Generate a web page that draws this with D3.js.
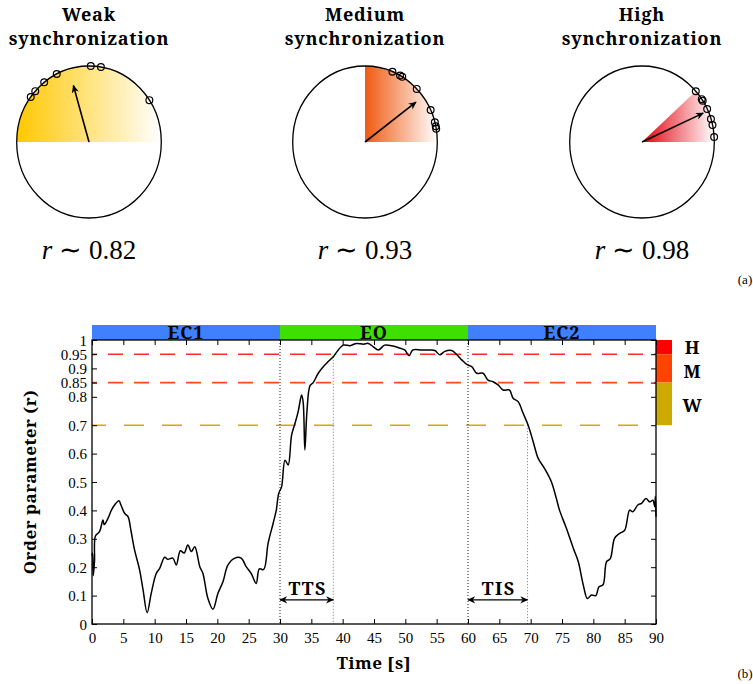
<!DOCTYPE html>
<html>
<head>
<meta charset="utf-8">
<script src="https://cdn.jsdelivr.net/npm/d3@7/dist/d3.min.js"></script>
<style>
  html, body { margin: 0; padding: 0; background: #fff; }
  svg { display: block; }
</style>
</head>
<body>
<svg id="chart" width="753" height="684"></svg>
<script>
// ---------------- DATA ----------------
// Panel (a): phase circles
const circleTitleTop = ["Weak", "Medium", "High"];
const circleTitleBottom = ["synchronization", "synchronization", "synchronization"];
const rLabels = ["0.82", "0.93", "0.98"];
const sectorSpanDeg = [180, 90, 42];
const sectorColors = ["#ffc800", "#ef5a12", "#e4000c"];
const phasesWeak = [143.7, 138, 128.3, 116.5, 88.6, 80.5, 33.4];
const phasesMedium = [67.7, 61, 59, 44.3, 24.8, 15, 12, 10];
const phasesHigh = [41.9, 34.3, 32.9, 25.7, 17.6, 12.9, 3.8];
const phaseSets = [phasesWeak, phasesMedium, phasesHigh];

// Panel (b): order parameter time series
const time = [0, 0.1, 0.2, 0.4, 0.55, 1.2, 1.75, 1.95, 2.55, 3.1,
  3.6, 4.3, 4.6, 5.2, 5.75, 6.2, 6.8, 7.6, 8.15, 8.8,
  9.45, 10.25, 10.8, 11.6, 12.1, 12.9, 13.45, 14.1, 14.7, 15.3,
  15.85, 16.4, 17.2, 17.7, 18.5, 19.3, 20.1, 20.9, 21.7, 22.8,
  23.8, 24.6, 25.4, 26.2, 26.7, 27.4, 28.1, 28.9, 29.4, 29.8,
  30.25, 30.8, 31.3, 31.85, 32.4, 32.9, 33.45, 33.7, 33.97, 34.3,
  34.8, 35.3, 36.1, 36.9, 37.7, 38.5, 39.3, 40.1, 41.2, 42.2,
  43.3, 44.1, 44.9, 45.7, 46.7, 47.8, 48.9, 49.9, 50.6, 51.2,
  52.6, 53.9, 54.7, 55.5, 56.3, 57.4, 58.2, 59.0, 59.8, 60.6,
  61.4, 62.4, 63.2, 64.0, 64.8, 65.6, 66.6, 67.2, 68.0, 68.8,
  69.6, 70.4, 71.2, 72.2, 73.3, 74.1, 74.6, 75.7, 76.8, 77.6,
  78.4, 79.05, 79.7, 80.4, 80.9, 81.55, 82.1, 82.7, 83.4, 84.2,
  85.0, 85.8, 86.3, 87.1, 87.7, 88.4, 89.0, 89.5, 89.8, 89.9, 90];
const orderParam = [0.24, 0.25, 0.17, 0.22, 0.31, 0.325, 0.366, 0.35, 0.372, 0.401,
  0.419, 0.434, 0.42, 0.39, 0.378, 0.331, 0.26, 0.19, 0.12, 0.04,
  0.108, 0.178, 0.196, 0.235, 0.228, 0.232, 0.208, 0.258, 0.25, 0.278,
  0.255, 0.272, 0.202, 0.178, 0.09, 0.052, 0.108, 0.149, 0.208, 0.232,
  0.232, 0.202, 0.178, 0.143, 0.194, 0.192, 0.284, 0.354, 0.40, 0.46,
  0.483, 0.577, 0.56, 0.665, 0.707, 0.748, 0.806, 0.78, 0.613, 0.748,
  0.84, 0.85, 0.883, 0.906, 0.924, 0.941, 0.965, 0.982, 0.98, 0.988,
  0.985, 0.988, 0.976, 0.965, 0.982, 0.98, 0.973, 0.965, 0.945, 0.965,
  0.965, 0.965, 0.963, 0.948, 0.96, 0.963, 0.948, 0.93, 0.914, 0.906,
  0.883, 0.883, 0.859, 0.853, 0.842, 0.824, 0.824, 0.795, 0.783, 0.742,
  0.70, 0.642, 0.583, 0.548, 0.501, 0.442, 0.401, 0.337, 0.267, 0.219,
  0.137, 0.09, 0.102, 0.10, 0.131, 0.138, 0.219, 0.23, 0.302, 0.319,
  0.33, 0.401, 0.395, 0.419, 0.425, 0.442, 0.43, 0.436, 0.413, 0.45, 0.378];

const xTickValues = [0, 5, 10, 15, 20, 25, 30, 35, 40, 45, 50, 55, 60, 65, 70, 75, 80, 85, 90];
const yTickValues = [0, 0.1, 0.2, 0.3, 0.4, 0.5, 0.6, 0.7, 0.8, 0.85, 0.9, 0.95, 1];
const yTickLabels = ["0", "0.1", "0.2", "0.3", "0.4", "0.5", "0.6", "0.7", "0.8", "0.85", "0.9", "0.95", "1"];

const stageLabels = ["EC1", "EO", "EC2"];
const stageStart = [0, 30, 60];
const stageEnd = [30, 60, 90];
const stageColors = ["#3f80ff", "#3de000", "#3f80ff"];

const thresholdValues = [0.95, 0.85, 0.7];
const thresholdColors = ["#ff2a2a", "#ff4a1a", "#d4aa00"];

const levelLabels = ["H", "M", "W"];
const levelLow = [0.95, 0.85, 0.7];
const levelHigh = [1, 0.95, 0.85];
const levelColors = ["#ff0000", "#ff4400", "#ccaa00"];

const intervalLabels = ["TTS", "TIS"];
const intervalStart = [30, 60];
const intervalEnd = [38.5, 69.5];
const intervalEndValue = [0.941, 0.70];
const intervalArrowValue = 0.085;

// ---------------- DRAW ----------------
const REG = '"Liberation Serif"';
const BOLD = '"Noto Serif"';
const svg = d3.select("#chart");
const defs = svg.append("defs");

function txt(sel, family, size, bold, spacing) {
  return sel.style("font-family", family).style("font-size", size + "px")
    .style("font-weight", bold ? "bold" : "normal")
    .style("letter-spacing", (spacing || 0) + "px").attr("fill", "#000");
}

function addMarker(id, orient) {
  defs.append("marker")
    .attr("id", id).attr("viewBox", "0 -5 10 10")
    .attr("refX", 9).attr("refY", 0)
    .attr("markerWidth", 9).attr("markerHeight", 8)
    .attr("markerUnits", "userSpaceOnUse")
    .attr("orient", orient)
    .append("path").attr("d", "M0,-4.5L10,0L0,4.5L3,0Z").attr("fill", "#000");
}
addMarker("arrowEnd", "auto");
addMarker("arrowStart", "auto-start-reverse");

// ----- panel (a)
const circleCx = [89, 365, 642];
const circleCy = 142;
const RX = 72.3, RY = 76;

phaseSets.forEach((phases, i) => {
  const sx = d3.scaleLinear().domain([-1, 1]).range([circleCx[i] - RX, circleCx[i] + RX]);
  const sy = d3.scaleLinear().domain([-1, 1]).range([circleCy + RY, circleCy - RY]);
  const g = svg.append("g");

  const span = sectorSpanDeg[i];
  const minCos = d3.min(d3.range(0, span + 1, 1), a => Math.cos(a * Math.PI / 180));
  const gid = "grad" + i;
  const grad = defs.append("linearGradient").attr("id", gid)
    .attr("gradientUnits", "userSpaceOnUse")
    .attr("x1", sx(Math.min(0, minCos))).attr("x2", sx(1)).attr("y1", 0).attr("y2", 0);
  grad.append("stop").attr("offset", 0).attr("stop-color", sectorColors[i]);
  grad.append("stop").attr("offset", 1).attr("stop-color", "#fff");

  const pts = [[0, 0]].concat(d3.range(0, span + 0.5, 1).map(a => [Math.cos(a * Math.PI / 180), Math.sin(a * Math.PI / 180)]));
  const line = d3.line().x(d => sx(d[0])).y(d => sy(d[1]));
  g.append("path").attr("d", line(pts) + "Z").attr("fill", `url(#${gid})`);

  g.append("ellipse").attr("cx", sx(0)).attr("cy", sy(0)).attr("rx", RX).attr("ry", RY)
    .attr("fill", "none").attr("stroke", "#000").attr("stroke-width", 1.3);

  const mc = d3.mean(phases, a => Math.cos(a * Math.PI / 180));
  const ms = d3.mean(phases, a => Math.sin(a * Math.PI / 180));
  g.append("line").attr("x1", sx(0)).attr("y1", sy(0))
    .attr("x2", sx(mc * 0.95)).attr("y2", sy(ms * 0.95))
    .attr("stroke", "#000").attr("stroke-width", 1.6)
    .attr("marker-end", "url(#arrowEnd)");

  g.selectAll("circle.ph").data(phases).join("circle")
    .attr("cx", a => sx(Math.cos(a * Math.PI / 180)))
    .attr("cy", a => sy(Math.sin(a * Math.PI / 180)))
    .attr("r", 3.4).attr("fill", "none").attr("stroke", "#000").attr("stroke-width", 1.2);

  txt(g.append("text").attr("x", circleCx[i]).attr("y", 21).attr("text-anchor", "middle"), BOLD, 18, true, 0.8)
    .text(circleTitleTop[i]);
  txt(g.append("text").attr("x", circleCx[i]).attr("y", 45).attr("text-anchor", "middle"), BOLD, 18, true, 0.8)
    .text(circleTitleBottom[i]);

  const t = txt(g.append("text").attr("x", circleCx[i]).attr("y", 259).attr("text-anchor", "middle"), REG, 27, false);
  t.append("tspan").style("font-style", "italic").text("r");
  t.append("tspan").text(" \u223C " + rLabels[i]);
});

txt(svg.append("text").attr("x", 745).attr("y", 284).attr("text-anchor", "middle"), REG, 13, false).text("(a)");

// ----- panel (b)
const x = d3.scaleLinear().domain([0, 90]).range([92, 656]);
const y = d3.scaleLinear().domain([0, 1]).range([624, 340]);

stageLabels.forEach((lab, i) => {
  svg.append("rect").attr("x", x(stageStart[i])).attr("y", 325)
    .attr("width", x(stageEnd[i]) - x(stageStart[i])).attr("height", y(1) - 325)
    .attr("fill", stageColors[i]);
  txt(svg.append("text").attr("x", (x(stageStart[i]) + x(stageEnd[i])) / 2).attr("y", 339)
    .attr("text-anchor", "middle"), BOLD, 18, true, 1).text(lab);
});

levelLabels.forEach((lab, i) => {
  svg.append("rect").attr("x", x(90)).attr("y", y(levelHigh[i]))
    .attr("width", 16).attr("height", y(levelLow[i]) - y(levelHigh[i]))
    .attr("fill", levelColors[i]);
});
const levelBaselines = [354, 378, 412];
levelLabels.forEach((lab, i) => {
  txt(svg.append("text").attr("x", 692).attr("y", levelBaselines[i]).attr("text-anchor", "middle"), BOLD, 18, true)
    .text(lab);
});

const dashes = ["15,11", "15,11", "20,18"];
thresholdValues.forEach((v, i) => {
  svg.append("line").attr("x1", x(0)).attr("x2", x(90)).attr("y1", y(v)).attr("y2", y(v))
    .attr("stroke", thresholdColors[i]).attr("stroke-width", 1.6)
    .attr("stroke-dasharray", dashes[i]).attr("stroke-dashoffset", i === 2 ? 6 : 10);
});

[30, 60].forEach(t => {
  svg.append("line").attr("x1", x(t)).attr("x2", x(t)).attr("y1", y(1)).attr("y2", y(0))
    .attr("stroke", "#000").attr("stroke-width", 0.9).attr("stroke-dasharray", "1,2");
});
intervalEnd.forEach((t, i) => {
  svg.append("line").attr("x1", x(t)).attr("x2", x(t)).attr("y1", y(intervalEndValue[i])).attr("y2", y(0))
    .attr("stroke", "#666").attr("stroke-width", 0.9).attr("stroke-dasharray", "1,2");
});

const gx = svg.append("g").attr("transform", `translate(0,${y(0)})`)
  .call(d3.axisBottom(x).tickValues(xTickValues).tickSize(-5).tickPadding(8).tickFormat(d3.format("d")));
const gxTop = svg.append("g").attr("transform", `translate(0,${y(1)})`)
  .call(d3.axisTop(x).tickValues(xTickValues).tickSize(-5).tickFormat(""));
const gy = svg.append("g").attr("transform", `translate(${x(0)},0)`)
  .call(d3.axisLeft(y).tickValues(yTickValues).tickSize(-5).tickPadding(5)
    .tickFormat((d, i) => yTickLabels[i]));
const gyR = svg.append("g").attr("transform", `translate(${x(90)},0)`)
  .call(d3.axisRight(y).tickValues(yTickValues).tickSize(-5).tickFormat(""));
[gx, gxTop, gy, gyR].forEach(g => {
  g.select(".domain").remove();
  g.selectAll("line").attr("stroke", "#000").attr("stroke-width", 1);
  txt(g.selectAll("text"), REG, 15, false);
});
gy.selectAll("text").attr("dy", "0.34em");

svg.append("rect").attr("x", x(0)).attr("y", y(1)).attr("width", x(90) - x(0)).attr("height", y(0) - y(1))
  .attr("fill", "none").attr("stroke", "#000").attr("stroke-width", 1.3);

const series = time.map((t, i) => [t, orderParam[i]]);
svg.append("path").datum(series)
  .attr("d", d3.line().x(d => x(d[0])).y(d => y(d[1])).curve(d3.curveCatmullRom.alpha(0.5)))
  .attr("fill", "none").attr("stroke", "#000").attr("stroke-width", 1.5).attr("stroke-linejoin", "round");

intervalLabels.forEach((lab, i) => {
  svg.append("line").attr("x1", x(intervalStart[i])).attr("x2", x(intervalEnd[i]))
    .attr("y1", y(intervalArrowValue)).attr("y2", y(intervalArrowValue))
    .attr("stroke", "#000").attr("stroke-width", 1.4)
    .attr("marker-start", "url(#arrowStart)").attr("marker-end", "url(#arrowEnd)");
  txt(svg.append("text").attr("x", (x(intervalStart[i]) + x(intervalEnd[i])) / 2 + 1).attr("y", 595)
    .attr("text-anchor", "middle"), BOLD, 18, true, 1.5).text(lab);
});

txt(svg.append("text").attr("x", 374).attr("y", 669).attr("text-anchor", "middle"), BOLD, 17, true, 0.5).text("Time [s]");
txt(svg.append("text").attr("transform", `translate(36,${(y(0) + y(1)) / 2}) rotate(-90)`)
  .attr("text-anchor", "middle"), BOLD, 17, true, 0.5).text("Order parameter (r)");

txt(svg.append("text").attr("x", 745).attr("y", 678).attr("text-anchor", "middle"), REG, 13, false).text("(b)");
</script>
</body>
</html>
